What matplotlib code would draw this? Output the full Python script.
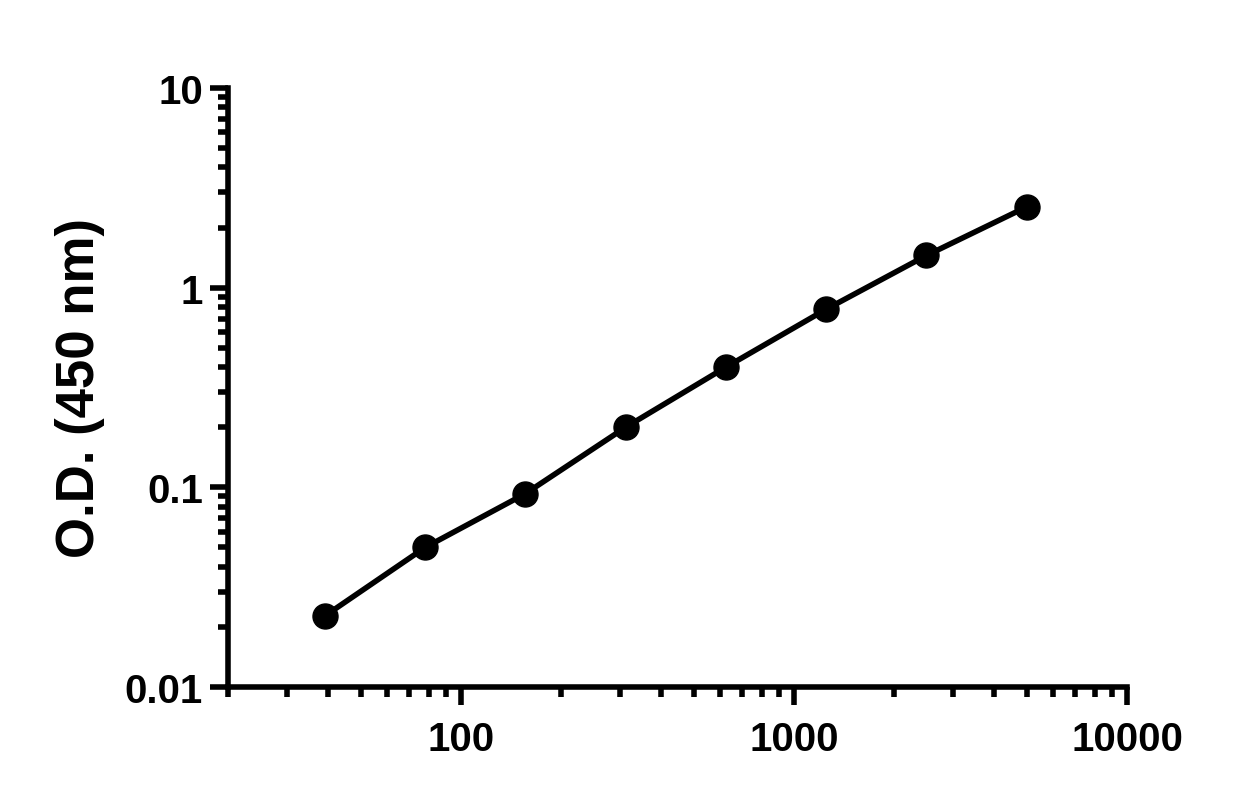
import numpy as np
import matplotlib
matplotlib.use("Agg")
import matplotlib.pyplot as plt
from matplotlib.ticker import LogLocator, NullFormatter, FixedLocator, FixedFormatter

plt.rcParams["font.family"] = ["Liberation Sans", "DejaVu Sans"]
plt.rcParams["font.weight"] = "bold"

conc = [39.06, 78.13, 156.25, 312.5, 625, 1250, 2500, 5000]
od = [0.0227, 0.050, 0.093, 0.20, 0.40, 0.78, 1.45, 2.54]

x_ticks = [100, 1000, 10000]
x_tick_labels = ["100", "1000", "10000"]
y_ticks = [0.01, 0.1, 1, 10]
y_tick_labels = ["0.01", "0.1", "1", "10"]

fig = plt.figure(figsize=(12.51, 8.04), dpi=100)
ax = fig.add_axes([0.1823, 0.1443, 0.7186, 0.745])

ax.plot(conc, od, color="black", linewidth=4.0, marker="o", markersize=18,
        markerfacecolor="black", markeredgecolor="black", zorder=3,
        clip_on=False)

ax.set_xscale("log")
ax.set_yscale("log")
ax.set_xlim(20, 10000)
ax.set_ylim(0.01, 10)

ax.xaxis.set_major_locator(FixedLocator(x_ticks))
ax.xaxis.set_major_formatter(FixedFormatter(x_tick_labels))
ax.yaxis.set_major_locator(FixedLocator(y_ticks))
ax.yaxis.set_major_formatter(FixedFormatter(y_tick_labels))
ax.xaxis.set_minor_locator(LogLocator(base=10, subs=np.arange(2, 10), numticks=20))
ax.yaxis.set_minor_locator(LogLocator(base=10, subs=np.arange(2, 10), numticks=20))
ax.xaxis.set_minor_formatter(NullFormatter())
ax.yaxis.set_minor_formatter(NullFormatter())

for s in ["top", "right"]:
    ax.spines[s].set_visible(False)
for s in ["left", "bottom"]:
    ax.spines[s].set_linewidth(4.0)
    ax.spines[s].set_capstyle("projecting")

ax.tick_params(which="major", direction="out", length=13, width=4.0,
               labelsize=29)
ax.tick_params(axis="x", which="major", pad=11)
ax.tick_params(axis="y", which="major", pad=5)
ax.tick_params(which="minor", direction="out", length=7, width=4.0)

ax.set_ylabel("O.D. (450 nm)", fontsize=38, fontweight="bold", labelpad=14)

fig.savefig("out.png", dpi=100)
